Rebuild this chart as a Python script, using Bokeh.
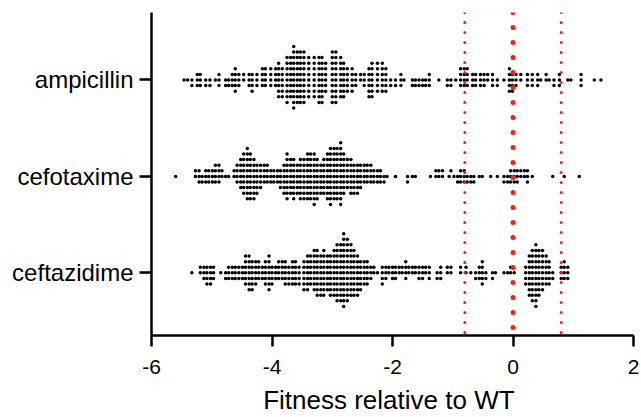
from bokeh.plotting import figure
from bokeh.models import Range1d, FixedTicker, Span, ColumnDataSource
from bokeh.embed import file_html
from bokeh.resources import INLINE

# ---- data: column positions (fitness) and number of variants in each column ----
categories = ["ceftazidime", "cefotaxime", "ampicillin"]
x_ticks = [-6, -4, -2, 0, 2]
x_tick_labels = ["-6", "-4", "-2", "0", "2"]
x_title = "Fitness relative to  WT"
ref_lines = [-0.8, 0.0, 0.8]

amp_x = [-5.46, -5.40, -5.33, -5.24, -5.19, -5.10, -5.03, -4.94, -4.88, -4.77, -4.72, -4.66, -4.61, -4.55,
         -4.47, -4.38, -4.33, -4.25, -4.16, -4.11, -4.02, -3.94, -3.89, -3.83, -3.75, -3.69, -3.64, -3.58,
         -3.53, -3.47, -3.39, -3.30, -3.22, -3.17, -3.11, -3.00, -2.94, -2.86, -2.81, -2.75, -2.67, -2.61,
         -2.53, -2.47, -2.39, -2.34, -2.25, -2.17, -2.11, -2.03, -1.95, -1.86, -1.81, -1.67, -1.62, -1.56,
         -1.50, -1.45, -1.39, -1.23, -1.09,
         -1.03, -0.95, -0.87, -0.81, -0.76, -0.67, -0.62, -0.54, -0.48, -0.42, -0.34, -0.26, -0.15, -0.06,
         -0.01, 0.05, 0.13, 0.24, 0.32, 0.41, 0.46, 0.55, 0.60, 0.68, 0.77, 0.91, 0.96, 1.13, 1.35, 1.46]
amp_n = [1, 1, 2, 3, 3, 2, 2, 1, 3, 2, 2, 3, 5, 3,
         2, 3, 4, 3, 4, 4, 4, 4, 7, 6, 9, 8, 12, 10,
         10, 10, 8, 8, 9, 9, 6, 10, 10, 8, 7, 5, 5, 3,
         2, 3, 6, 7, 6, 6, 5, 2, 2, 3, 1, 2, 2, 2,
         2, 2, 3, 1, 2,
         2, 1, 4, 4, 4, 3, 3, 3, 3, 2, 3, 2, 1, 5,
         4, 3, 2, 3, 3, 3, 1, 2, 1, 2, 3, 1, 1, 3, 1, 1]

cefo_x = [-5.60, -5.27, -5.21, -5.16, -5.10, -5.05, -4.99, -4.94, -4.88, -4.83, -4.77, -4.72, -4.63, -4.58,
          -4.52, -4.47, -4.41, -4.36, -4.30, -4.25, -4.19, -4.13, -4.08, -4.02, -3.97, -3.91, -3.86, -3.80,
          -3.75, -3.69, -3.64, -3.58,
          -3.53, -3.47, -3.41, -3.36, -3.30, -3.25, -3.19, -3.14, -3.08, -3.03, -2.97, -2.92, -2.86, -2.81,
          -2.75, -2.69, -2.64, -2.58, -2.53, -2.47, -2.42, -2.36, -2.31, -2.25, -2.20, -2.14, -2.09, -1.95,
          -1.75, -1.67, -1.62, -1.37, -1.28, -1.23, -1.17, -1.06,
          -1.03, -0.98, -0.92, -0.87, -0.81, -0.76, -0.70, -0.65, -0.56, -0.51, -0.37, -0.26, -0.15, -0.09,
          -0.04, 0.02, 0.07, 0.13, 0.19, 0.24, 0.32, 0.66, 0.85, 1.10]
cefo_n = [1, 2, 3, 2, 3, 3, 3, 4, 4, 2, 1, 1, 2, 4,
          6, 8, 10, 9, 8, 6, 5, 4, 4, 3, 3, 3, 4, 6,
          9, 7, 8, 6,
          8, 8, 9, 9, 10, 8, 6, 7, 9, 11, 10, 10, 12, 8,
          6, 7, 6, 6, 5, 4, 4, 4, 3, 3, 3, 2, 1, 1,
          2, 1, 1, 1, 2, 2, 2, 1,
          1, 1, 2, 3, 3, 2, 2, 2, 1, 1, 1, 1, 2, 2,
          3, 3, 3, 2, 2, 3, 1, 1, 1, 1]

cefta_x = [-5.33, -5.19, -5.13, -5.08, -5.02, -4.97, -4.85, -4.77, -4.72, -4.66, -4.61, -4.55, -4.49, -4.44,
           -4.38, -4.33, -4.27, -4.22, -4.16, -4.11, -4.05, -4.00, -3.94, -3.89, -3.83, -3.78, -3.72, -3.66,
           -3.61, -3.55,
           -3.47, -3.41, -3.36, -3.30, -3.25, -3.19, -3.14, -3.08, -3.03, -2.97, -2.92, -2.86, -2.81, -2.75,
           -2.69, -2.64, -2.58, -2.53, -2.47, -2.42, -2.36, -2.31, -2.25, -2.17, -2.11, -2.06, -2.00, -1.95,
           -1.89, -1.84, -1.78, -1.73, -1.67, -1.62, -1.56, -1.50, -1.45, -1.39, -1.26, -1.20, -1.09,
           -1.03, -0.87, -0.78, -0.70, -0.62, -0.56, -0.51, -0.45, -0.34, -0.29, -0.15, -0.09, -0.04, 0.02,
           0.21, 0.27, 0.32, 0.38, 0.43, 0.49, 0.55, 0.60, 0.66, 0.80, 0.85, 0.91]
cefta_n = [1, 2, 3, 4, 4, 3, 1, 2, 3, 3, 3, 3, 3, 6,
           7, 6, 5, 4, 3, 5, 7, 4, 3, 4, 4, 5, 4, 5,
           5, 4,
           6, 7, 6, 8, 9, 8, 9, 7, 8, 9, 11, 11, 14, 12,
           10, 9, 8, 6, 5, 5, 3, 2, 1, 4, 3, 2, 3, 3,
           2, 2, 4, 2, 2, 2, 3, 3, 2, 3, 2, 3, 2,
           2, 2, 2, 1, 2, 3, 5, 2, 2, 1, 1, 1, 2, 1,
           4, 8, 10, 12, 9, 8, 6, 5, 2, 3, 4, 3]

series = [(1, cefta_x, cefta_n), (2, cefo_x, cefo_n), (3, amp_x, amp_n)]

# ---- layout geometry ----
W, H = 641, 417
BL, BR, BT, BB = 151, 8, 12, 82
XR = (-6, 2)
YR = (0.35, 3.70)
FW = W - BL - BR
XS = FW / (XR[1] - XR[0])              # px per x unit
YS = (H - BT - BB) / (YR[1] - YR[0])   # px per y unit
ROW = 5.6      # px between rows of the scatter
MINDX = 3.0    # px minimum horizontal gap between dots sharing a row


def row_swarm(xvals):
    """Row-based scatter layout: each point goes to the row nearest the centre
    that has no other dot horizontally closer than MINDX."""
    rows = {}
    out = []
    for i, v in enumerate(xvals):
        px = v * XS
        sgn = 1 if i % 2 == 0 else -1
        order = [0]
        for k in range(1, 60):
            order += [sgn * k, -sgn * k]
        for r in order:
            if all(abs(px - q) >= MINDX for q in rows.get(r, [])):
                rows.setdefault(r, []).append(px)
                out.append(r)
                break
    return out


xs_all, ys_all = [], []
for cat, cx, cn in series:
    vals = []
    for v, n in zip(cx, cn):
        vals += [v] * n
    vals.sort()
    rr = row_swarm(vals)
    xs_all += vals
    ys_all += [cat + r * ROW / YS for r in rr]

src = ColumnDataSource(dict(x=xs_all, y=ys_all))

FONT = "Liberation Sans"

p = figure(width=W, height=H, x_range=Range1d(*XR), y_range=Range1d(*YR),
           output_backend="svg", toolbar_location=None,
           min_border_left=BL, min_border_right=BR, min_border_top=BT, min_border_bottom=BB)
p.outline_line_color = None
p.xgrid.visible = False
p.ygrid.visible = False
p.background_fill_color = "white"
p.border_fill_color = "white"

for loc, w, dash in zip(ref_lines, [3, 5, 3], ["0 10", "0 15", "0 10"]):
    p.add_layout(Span(location=loc, dimension="height", line_color="#ff1a1a",
                      line_width=w, line_dash=dash, line_cap="round"))

p.scatter("x", "y", source=src, size=3.5, fill_color="black", line_color=None)

xa = p.xaxis[0]
xa.ticker = FixedTicker(ticks=x_ticks)
xa.major_label_overrides = dict(zip(x_ticks, x_tick_labels))
xa.major_label_text_font = FONT
xa.major_label_text_font_size = "21px"
xa.major_label_text_color = "black"
xa.major_label_standoff = 13
xa.axis_label = x_title
xa.axis_label_text_font = FONT
xa.axis_label_text_font_size = "26px"
xa.axis_label_text_font_style = "normal"
xa.axis_label_text_color = "black"
xa.axis_label_standoff = 8
xa.axis_line_width = 2.5
xa.major_tick_line_width = 2.5
xa.major_tick_out = 11
xa.major_tick_in = 0
xa.minor_tick_out = 0
xa.minor_tick_in = 0
xa.axis_line_color = "black"
xa.major_tick_line_color = "black"

ya = p.yaxis[0]
ya.ticker = FixedTicker(ticks=[1, 2, 3])
ya.major_label_overrides = {1: categories[0], 2: categories[1], 3: categories[2]}
ya.major_label_text_font = FONT
ya.major_label_text_font_size = "24px"
ya.major_label_text_color = "black"
ya.major_label_standoff = 6
ya.axis_line_width = 2.5
ya.major_tick_line_width = 2.5
ya.major_tick_out = 12
ya.major_tick_in = 0
ya.minor_tick_out = 0
ya.minor_tick_in = 0
ya.axis_line_color = "black"
ya.major_tick_line_color = "black"

open("out.html", "w").write(file_html(p, INLINE))
